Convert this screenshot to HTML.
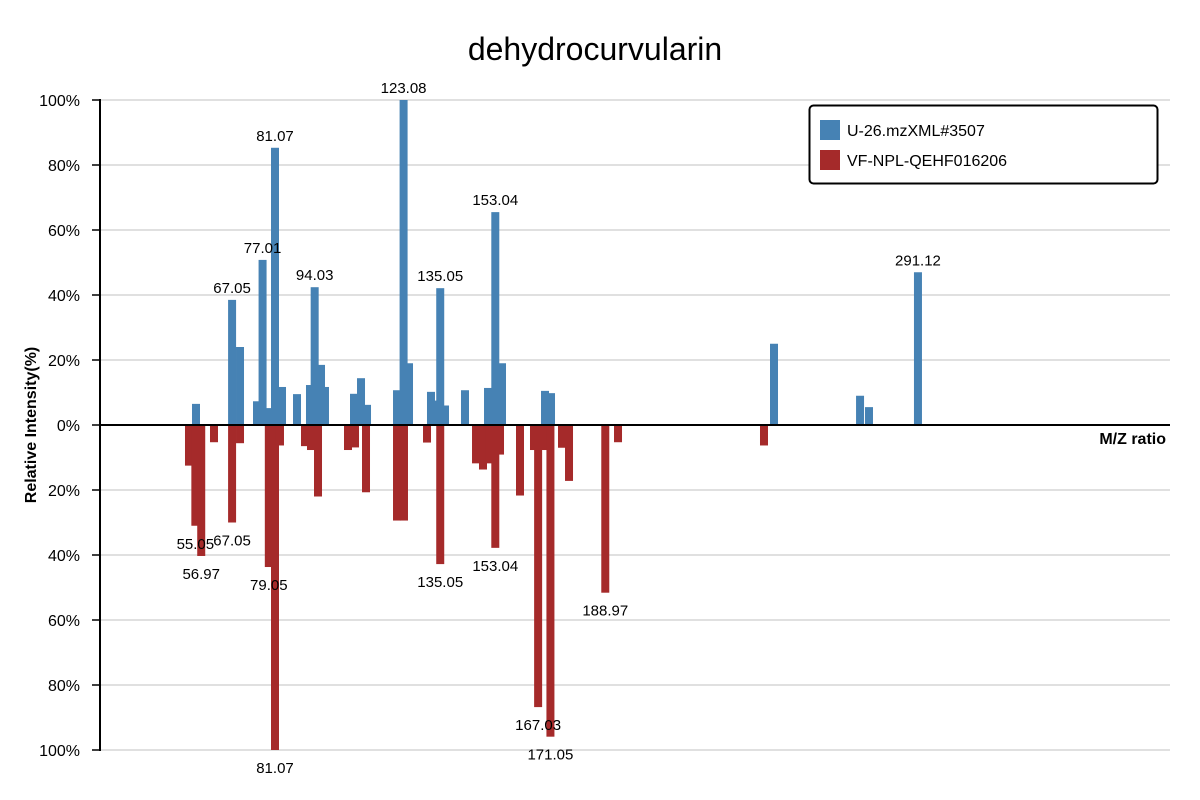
<!DOCTYPE html>
<html><head><meta charset="utf-8"><style>
html,body{margin:0;padding:0;background:#fff;}
svg{display:block;font-family:"Liberation Sans","DejaVu Sans",sans-serif;}
</style></head><body>
<svg id="chart" width="1200" height="800" viewBox="0 0 1200 800">
<text x="595" y="60" text-anchor="middle" font-size="32" fill="#000">dehydrocurvularin</text>
<g id="grid"></g>
<g id="bars"></g>
<g id="labels"></g>
<g id="axis"></g>
<line x1="100" y1="425" x2="1170" y2="425" stroke="#000" stroke-width="2"/>
<text x="1166" y="444" text-anchor="end" font-size="16" font-weight="bold">M/Z ratio</text>
<text transform="translate(36,425) rotate(-90)" text-anchor="middle" font-size="16" font-weight="bold">Relative Intensity(%)</text>
<g>
<rect x="809.5" y="105.5" width="348" height="78" rx="4" fill="#fff" stroke="#000" stroke-width="2"/>
<rect x="820" y="120" width="20" height="20" fill="#4682b4"/>
<text x="847" y="136" font-size="16">U-26.mzXML#3507</text>
<rect x="820" y="150" width="20" height="20" fill="#a52a2a"/>
<text x="847" y="166" font-size="16">VF-NPL-QEHF016206</text>
</g>
</svg>
<script>
const topMz=[55.26,67.05,69.64,75.19,77.01,79.11,81.07,83.36,88.26,92.50,94.03,96.10,97.40,106.88,109.17,111.13,120.93,123.08,124.85,132.03,133.34,135.05,136.61,143.14,150.66,153.04,155.23,169.28,171.24,244.09,272.20,275.12,291.12];
const topVal=[6.5,38.5,24,7.3,50.8,5.2,85.3,11.7,9.5,12.3,42.4,18.5,11.7,9.6,14.4,6.2,10.7,100,19,10.2,7.5,42.1,6,10.7,11.4,65.5,19,10.5,9.8,25,9,5.5,47];
const topLabels=[67.05,77.01,81.07,94.03,123.08,135.05,153.04,291.12];
const botMz=[52.97,55.05,56.97,61.14,67.05,69.64,79.05,81.07,82.70,90.87,92.83,95.12,104.92,107.21,110.80,120.93,123.21,130.73,135.05,146.74,149.02,151.03,153.04,154.58,161.11,165.68,167.03,168.95,171.05,174.83,177.12,188.97,193.13,240.82];
const botVal=[12.5,31,40.3,5.3,30,5.6,43.7,100,6.3,6.5,7.7,22,7.7,6.9,20.7,29.4,29.4,5.4,42.8,11.8,13.7,11.8,37.8,9.1,21.7,7.7,86.8,7.7,95.9,7,17.2,51.6,5.3,6.3];
const botLabels=[55.05,56.97,67.05,79.05,81.07,135.05,153.04,167.03,171.05,188.97];
const yTicks=[100,80,60,40,20,0,-20,-40,-60,-80,-100];

const NS="http://www.w3.org/2000/svg";
function x(mz){return 275+(mz-81.07)*3.061;}
function y(v){return 425-v*3.25;}
function mk(tag,attrs,parent){const e=document.createElementNS(NS,tag);for(const k in attrs)e.setAttribute(k,attrs[k]);parent.appendChild(e);return e;}
const grid=document.getElementById('grid'),axis=document.getElementById('axis'),bars=document.getElementById('bars'),labels=document.getElementById('labels');
yTicks.forEach(t=>{
  if(t!==0){const g=mk('line',{x1:100,x2:1170,y1:y(t),y2:y(t),stroke:'#e0e0e0','stroke-width':2},grid);
  
  }
  const tk=mk('line',{x1:92,x2:100,y1:y(t),y2:y(t),stroke:'#000','stroke-width':1.5},axis);
  
  
  const tl=mk('text',{x:80,y:y(t)+6,'text-anchor':'end','font-size':16},axis);
  tl.textContent=Math.abs(t)+'%';
  
  
});
const ax=mk('line',{x1:100,x2:100,y1:99,y2:751,stroke:'#000','stroke-width':2},axis);


botMz.forEach((m,i)=>{
  const r=mk('rect',{x:x(m)-4,y:425,width:8,height:y(-botVal[i])-425,fill:'#a52a2a'},bars);
  
  
});
topMz.forEach((m,i)=>{
  const r=mk('rect',{x:x(m)-4,y:y(topVal[i]),width:8,height:425-y(topVal[i]),fill:'#4682b4'},bars);
  
  
});
topLabels.forEach(m=>{
  const i=topMz.indexOf(m);
  const t=mk('text',{x:x(m),y:y(topVal[i])-7,'text-anchor':'middle','font-size':15},labels);
  t.textContent=m.toFixed(2);
  
  
});
botLabels.forEach(m=>{
  const i=botMz.indexOf(m);
  const t=mk('text',{x:x(m),y:y(-botVal[i])+23,'text-anchor':'middle','font-size':15},labels);
  t.textContent=m.toFixed(2);
  
  
});
</script>
</body></html>
